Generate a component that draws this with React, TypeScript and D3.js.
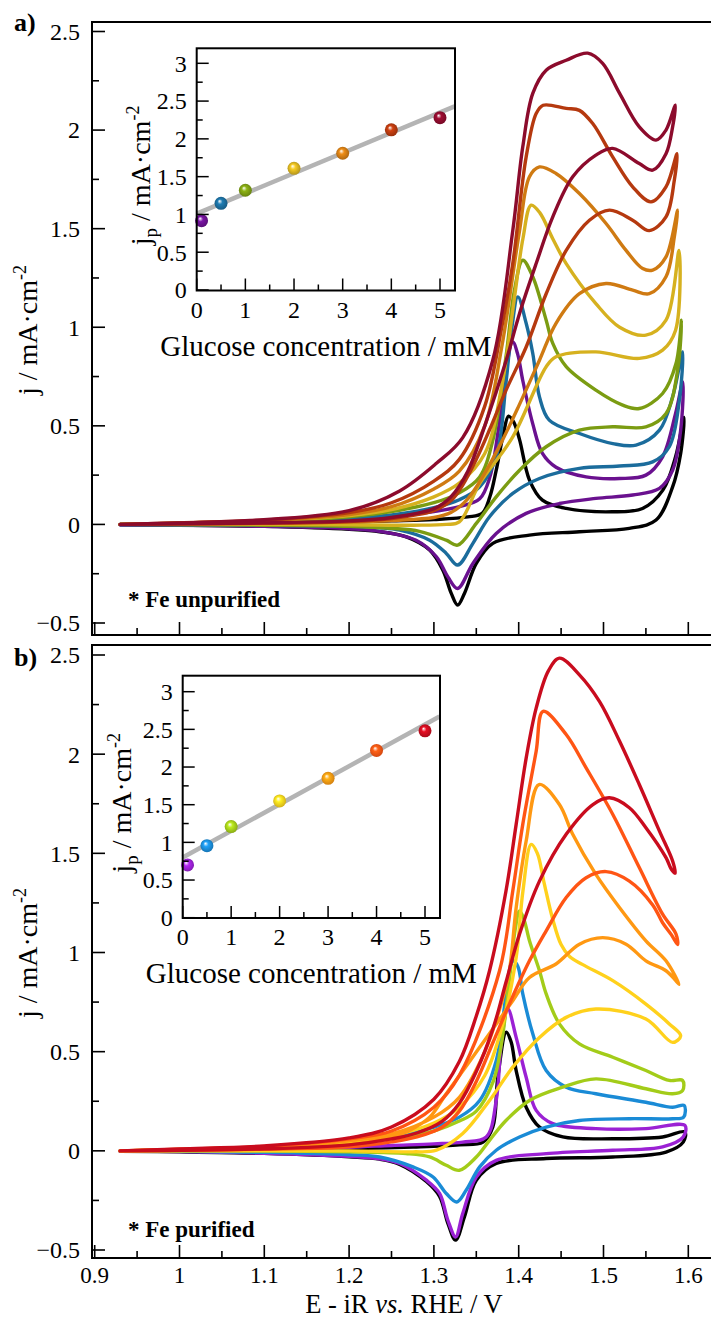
import React from 'react';
import * as d3 from 'd3';

// ---------- axis ticks ----------
const potentialTicks = [0.9, 1.0, 1.1, 1.2, 1.3, 1.4, 1.5, 1.6];
const potentialLabels = ['0.9', '1', '1.1', '1.2', '1.3', '1.4', '1.5', '1.6'];
const currentTicks = [-0.5, 0, 0.5, 1, 1.5, 2, 2.5];
const currentLabels = ['\u22120.5', '0', '0.5', '1', '1.5', '2', '2.5'];
const insetXTicks = [0, 1, 2, 3, 4, 5];
const insetYTicks = [0, 0.5, 1, 1.5, 2, 2.5, 3];
const insetYLabels = ['0', '0.5', '1', '1.5', '2', '2.5', '3'];

// ---------- inset data ----------
const concentrations = [0.1, 0.5, 1, 2, 3, 4, 5];
const peakA = [0.917, 1.147, 1.32, 1.61, 1.81, 2.12, 2.28];
const peakB = [0.70, 0.956, 1.21, 1.55, 1.85, 2.22, 2.48];
const fitA = [[0, 1.01], [5.3, 2.43]];
const fitB = [[0, 0.80], [5.3, 2.67]];

// ---------- colours ----------
const colorsA = ['#000000', '#6a118f', '#1b6c9c', '#7b9c12', '#d6b11f', '#cf7a12', '#b5390f', '#8c0b2c'];
const colorsB = ['#000000', '#9b21d4', '#1a8bd6', '#a3cc19', '#ffd11c', '#ff9812', '#ff5514', '#c90c1e'];

// ---------- CV loops, panel a (E / V, j / mA cm-2) ----------
const cvA0 = [[0.93,0],[1.0,0.002],[1.1,0.006],[1.2,0.012],[1.25,0.018],[1.3,0.025],[1.34,0.038],[1.357,0.056],[1.366,0.14],[1.3735,0.275],[1.382,0.46],[1.388,0.549],[1.394,0.52],[1.401,0.43],[1.4127,0.225],[1.428,0.123],[1.456,0.081],[1.51,0.064],[1.546,0.081],[1.57,0.174],[1.585,0.343],[1.595,0.543],
  [1.591,0.36],[1.5815,0.19],[1.562,0.022],[1.5305,-0.02],[1.4716,-0.037],[1.4127,-0.054],[1.3695,-0.096],[1.35,-0.198],[1.336,-0.35],[1.328,-0.409],[1.3205,-0.35],[1.3106,-0.232],[1.295,-0.13],[1.2675,-0.063],[1.236,-0.037],[1.2,-0.025],[1.1,-0.01],[1.0,-0.004],[0.93,-0.002]];
const cvA01 = [[0.93,0],[1.0,0.003],[1.1,0.01],[1.2,0.024],[1.25,0.038],[1.3,0.065],[1.33,0.09],[1.354,0.13],[1.366,0.24],[1.376,0.48],[1.385,0.78],[1.393,0.926],[1.399,0.86],[1.4048,0.73],[1.4166,0.51],[1.428,0.36],[1.444,0.29],[1.4795,0.241],[1.519,0.233],[1.55,0.25],[1.5697,0.343],[1.585,0.563],[1.5935,0.723],
  [1.591,0.478],[1.5815,0.275],[1.566,0.183],[1.5344,0.149],[1.491,0.132],[1.448,0.106],[1.4088,0.056],[1.3735,-0.046],[1.346,-0.198],[1.328,-0.325],[1.3165,-0.266],[1.303,-0.164],[1.279,-0.08],[1.236,-0.035],[1.2,-0.022],[1.1,-0.01],[1.0,-0.004],[0.93,-0.002]];
const cvA05 = [[0.93,0],[1.0,0.004],[1.1,0.012],[1.2,0.03],[1.25,0.048],[1.3,0.085],[1.33,0.125],[1.354,0.19],[1.3735,0.343],[1.3853,0.73],[1.392,1.0],[1.399,1.154],[1.4088,1.02],[1.4166,0.867],[1.4245,0.647],[1.436,0.529],[1.4716,0.461],[1.511,0.41],[1.5384,0.402],[1.566,0.478],[1.5815,0.647],[1.5933,0.875],
  [1.589,0.614],[1.5776,0.394],[1.558,0.317],[1.519,0.296],[1.4716,0.284],[1.4245,0.233],[1.393,0.157],[1.3656,0.039],[1.346,-0.096],[1.328,-0.206],[1.3146,-0.147],[1.295,-0.08],[1.2596,-0.029],[1.236,-0.017],[1.2,-0.01],[1.1,-0.005],[0.93,-0.001]];
const cvA1 = [[0.93,0],[1.0,0.005],[1.1,0.015],[1.2,0.038],[1.25,0.065],[1.3,0.11],[1.33,0.16],[1.354,0.241],[1.3695,0.427],[1.385,0.85],[1.395,1.188],[1.4048,1.34],[1.4166,1.256],[1.4324,1.036],[1.4402,0.918],[1.456,0.80],[1.491,0.681],[1.5226,0.605],[1.5422,0.588],[1.5697,0.664],[1.5855,0.816],[1.592,1.036],
  [1.5874,0.782],[1.5738,0.563],[1.55,0.495],[1.5108,0.495],[1.4716,0.478],[1.4324,0.394],[1.401,0.275],[1.3735,0.14],[1.35,0.005],[1.328,-0.105],[1.3146,-0.08],[1.283,-0.035],[1.25,-0.02],[1.2,-0.01],[1.1,-0.004],[0.93,0]];
const cvA2 = [[0.93,0],[1.0,0.006],[1.1,0.018],[1.2,0.045],[1.25,0.075],[1.3,0.14],[1.33,0.21],[1.36,0.36],[1.38,0.7],[1.395,1.15],[1.405,1.45],[1.4147,1.619],[1.425,1.58],[1.44,1.45],[1.456,1.323],[1.491,1.12],[1.519,1.0],[1.55,0.96],[1.5737,1.036],[1.589,1.39],
  [1.585,0.985],[1.5697,0.884],[1.5422,0.842],[1.491,0.875],[1.444,0.85],[1.4324,0.80],[1.393,0.444],[1.354,0.208],[1.33,0.013],[1.3146,0.0],[1.275,-0.004],[1.2,-0.002],[1.1,0],[0.93,0]];
const cvA3 = [[0.93,0],[1.0,0.007],[1.1,0.02],[1.2,0.05],[1.25,0.09],[1.3,0.18],[1.33,0.27],[1.36,0.5],[1.38,0.9],[1.401,1.49],[1.4127,1.763],[1.4245,1.813],[1.444,1.78],[1.4716,1.678],[1.503,1.526],[1.5266,1.39],[1.5462,1.298],[1.558,1.29],[1.5737,1.357],[1.5874,1.594],
  [1.5835,1.458],[1.5737,1.256],[1.554,1.17],[1.5344,1.188],[1.503,1.222],[1.4716,1.17],[1.444,1.02],[1.4245,0.833],[1.40,0.6],[1.38,0.42],[1.36,0.26],[1.34,0.13],[1.32,0.06],[1.30,0.035],[1.25,0.02],[1.2,0.012],[1.1,0.005],[0.93,0]];
const cvA4 = [[0.93,0],[1.0,0.008],[1.1,0.022],[1.2,0.06],[1.25,0.11],[1.3,0.22],[1.33,0.33],[1.36,0.6],[1.38,1.0],[1.393,1.323],[1.4088,1.864],[1.4206,2.084],[1.4288,2.126],[1.456,2.11],[1.4716,2.10],[1.4873,2.033],[1.5108,1.864],[1.5344,1.712],[1.556,1.636],[1.5737,1.712],[1.5867,1.88],
  [1.5835,1.746],[1.5737,1.56],[1.554,1.49],[1.5344,1.543],[1.507,1.594],[1.4834,1.543],[1.456,1.39],[1.4324,1.17],[1.4088,0.90],[1.385,0.68],[1.3656,0.48],[1.35,0.33],[1.334,0.2],[1.32,0.12],[1.30,0.07],[1.25,0.03],[1.2,0.015],[1.1,0.006],[0.93,0]];
const cvA5 = [[0.93,0],[1.0,0.008],[1.083,0.02],[1.2,0.07],[1.2596,0.17],[1.303,0.31],[1.334,0.44],[1.3695,0.834],[1.393,1.49],[1.4048,1.915],[1.4166,2.186],[1.4324,2.304],[1.456,2.354],[1.4814,2.39],[1.499,2.338],[1.519,2.186],[1.5422,2.016],[1.5619,1.949],[1.5737,2.0],[1.5847,2.126],
  [1.5815,2.016],[1.5737,1.88],[1.558,1.797],[1.5422,1.83],[1.5108,1.907],[1.491,1.873],[1.4637,1.763],[1.4402,1.56],[1.4206,1.323],[1.401,1.07],[1.3853,0.833],[1.36,0.5],[1.34,0.27],[1.32,0.14],[1.30,0.08],[1.25,0.035],[1.2,0.018],[1.1,0.008],[0.93,0]];

// ---------- CV loops, panel b ----------
const cvB0 = [[0.93,0],[1.0,0.002],[1.1,0.005],[1.2,0.01],[1.2755,0.019],[1.33,0.03],[1.358,0.044],[1.3695,0.12],[1.3754,0.371],[1.3853,0.598],[1.391,0.55],[1.397,0.405],[1.4088,0.22],[1.4245,0.12],[1.452,0.07],[1.511,0.061],[1.5697,0.07],[1.596,0.095],
  [1.594,0.044],[1.5737,-0.006],[1.511,-0.031],[1.4324,-0.039],[1.3735,-0.064],[1.35,-0.148],[1.336,-0.333],[1.3256,-0.45],[1.3165,-0.366],[1.3067,-0.23],[1.2911,-0.155],[1.2596,-0.068],[1.236,-0.042],[1.2,-0.03],[1.1,-0.013],[1.0,-0.005],[0.93,-0.002]];
const cvB01 = [[0.93,0],[1.0,0.003],[1.1,0.008],[1.2,0.018],[1.25,0.027],[1.3,0.035],[1.334,0.044],[1.3617,0.07],[1.3735,0.254],[1.3794,0.539],[1.3872,0.715],[1.397,0.572],[1.4088,0.371],[1.4206,0.204],[1.4402,0.137],[1.491,0.112],[1.55,0.112],[1.596,0.128],
  [1.594,0.07],[1.5697,0.02],[1.511,0.003],[1.4324,-0.014],[1.3735,-0.048],[1.35,-0.132],[1.334,-0.316],[1.3256,-0.434],[1.3165,-0.35],[1.3067,-0.215],[1.2911,-0.148],[1.2596,-0.064],[1.236,-0.04],[1.2,-0.028],[1.1,-0.012],[1.0,-0.004],[0.93,-0.002]];
const cvB05 = [[0.93,0],[1.0,0.004],[1.1,0.012],[1.2,0.03],[1.236,0.053],[1.3,0.12],[1.33,0.17],[1.354,0.254],[1.3735,0.455],[1.3853,0.791],[1.393,0.958],[1.399,0.93],[1.4048,0.791],[1.4166,0.59],[1.4324,0.405],[1.456,0.321],[1.491,0.288],[1.55,0.245],[1.5815,0.22],[1.5952,0.229],
  [1.5945,0.17],[1.5815,0.162],[1.5305,0.162],[1.4716,0.153],[1.4324,0.12],[1.401,0.07],[1.3735,0.003],[1.354,-0.081],[1.338,-0.199],[1.327,-0.258],[1.3146,-0.215],[1.299,-0.132],[1.2753,-0.081],[1.236,-0.031],[1.2,-0.02],[1.1,-0.008],[0.93,0]];
const cvB1 = [[0.93,0],[1.0,0.005],[1.1,0.015],[1.2,0.04],[1.25,0.06],[1.3,0.1],[1.33,0.15],[1.35,0.2],[1.37,0.35],[1.38,0.55],[1.39,0.9],[1.396,1.12],[1.401,1.21],[1.406,1.17],[1.4127,1.059],[1.4245,0.908],[1.4324,0.791],[1.448,0.64],[1.4716,0.539],[1.511,0.472],[1.55,0.405],[1.5776,0.355],[1.5933,0.355],
  [1.5933,0.304],[1.5815,0.288],[1.55,0.313],[1.491,0.363],[1.452,0.321],[1.4127,0.254],[1.385,0.153],[1.3656,0.053],[1.35,-0.031],[1.33,-0.098],[1.3146,-0.073],[1.295,-0.031],[1.267,-0.014],[1.2,-0.005],[1.1,0],[0.93,0]];
const cvB2 = [[0.93,0],[1.0,0.006],[1.1,0.018],[1.2,0.045],[1.25,0.075],[1.3,0.14],[1.33,0.22],[1.36,0.38],[1.38,0.62],[1.397,0.975],[1.405,1.31],[1.4147,1.545],[1.422,1.5],[1.43,1.35],[1.44,1.17],[1.45,1.04],[1.46,0.98],[1.475,0.94],[1.511,0.858],[1.55,0.74],[1.5776,0.64],[1.591,0.58],
  [1.5815,0.547],[1.55,0.665],[1.491,0.715],[1.456,0.673],[1.4245,0.572],[1.393,0.422],[1.3656,0.254],[1.334,0.087],[1.303,0.003],[1.2753,-0.005],[1.2,0],[1.1,0],[0.93,0]];
const cvB3 = [[0.93,0],[1.0,0.007],[1.1,0.02],[1.2,0.05],[1.25,0.085],[1.3,0.17],[1.33,0.27],[1.36,0.5],[1.38,0.75],[1.389,0.908],[1.397,1.226],[1.4088,1.562],[1.424,1.847],[1.448,1.746],[1.4637,1.596],[1.491,1.394],[1.519,1.226],[1.55,1.059],[1.5737,0.958],[1.589,0.84],
  [1.585,0.86],[1.5737,0.908],[1.55,0.958],[1.5266,1.042],[1.499,1.075],[1.4716,1.042],[1.444,0.942],[1.4127,0.874],[1.393,0.757],[1.354,0.522],[1.3146,0.288],[1.295,0.17],[1.27,0.1],[1.25,0.07],[1.2,0.03],[1.1,0.01],[0.93,0]];
const cvB4 = [[0.93,0],[1.0,0.008],[1.1,0.022],[1.2,0.06],[1.25,0.1],[1.3,0.22],[1.33,0.38],[1.3774,0.908],[1.393,1.31],[1.4048,1.646],[1.4206,2.015],[1.4288,2.216],[1.456,2.099],[1.4795,1.931],[1.511,1.696],[1.5422,1.428],[1.5697,1.193],[1.5855,1.093],[1.5874,1.04],
  [1.58,1.09],[1.5697,1.15],[1.558,1.24],[1.5305,1.36],[1.503,1.408],[1.4795,1.377],[1.456,1.277],[1.4324,1.109],[1.4127,0.958],[1.39,0.75],[1.37,0.55],[1.35,0.35],[1.33,0.2],[1.31,0.12],[1.28,0.07],[1.25,0.045],[1.2,0.02],[1.1,0.008],[0.93,0]];
const cvB5 = [[0.93,0],[1.0,0.01],[1.1,0.025],[1.2,0.065],[1.25,0.12],[1.3,0.26],[1.33,0.45],[1.35,0.68],[1.3656,0.908],[1.385,1.31],[1.397,1.646],[1.4088,1.98],[1.4206,2.232],[1.435,2.42],[1.448,2.484],[1.4716,2.40],[1.4952,2.266],[1.519,2.065],[1.5422,1.847],[1.566,1.612],[1.5815,1.461],[1.5845,1.40],
  [1.58,1.42],[1.5737,1.478],[1.55,1.629],[1.5305,1.73],[1.507,1.78],[1.4875,1.746],[1.456,1.596],[1.4245,1.36],[1.401,1.093],[1.385,0.85],[1.37,0.62],[1.35,0.4],[1.33,0.24],[1.31,0.15],[1.28,0.09],[1.25,0.06],[1.2,0.03],[1.1,0.01],[0.93,0]];

const curvesA = [cvA0, cvA01, cvA05, cvA1, cvA2, cvA3, cvA4, cvA5];
const curvesB = [cvB0, cvB01, cvB05, cvB1, cvB2, cvB3, cvB4, cvB5];

const FONT = '"Liberation Serif", "Times New Roman", serif';

type Inset = { left: number; right: number; top: number; bottom: number; x0: number; x5: number; y0: number; y3: number; peaks: number[]; fit: number[][] };
type Panel = {
  key: string; top: number; bottom: number; yr: [number, number]; curves: number[][][]; colors: string[];
  label: string; labelY: number; note: string; noteY: number; titleY: number; showX: boolean; inset: Inset; insetTitleX: number;
};

const panels: Panel[] = [
  { key: 'a', top: 22, bottom: 635, yr: [623, 31.5], curves: curvesA, colors: colorsA, label: 'a)', labelY: 31,
    note: '* Fe unpurified', noteY: 607, titleY: 330, showX: false, insetTitleX: 150,
    inset: { left: 196.7, right: 455, top: 48.3, bottom: 290.5, x0: 196.7, x5: 440, y0: 290, y3: 63.3, peaks: peakA, fit: fitA } },
  { key: 'b', top: 645, bottom: 1258, yr: [1250, 655], curves: curvesB, colors: colorsB, label: 'b)', labelY: 666,
    note: '* Fe purified', noteY: 1237, titleY: 953, showX: true, insetTitleX: 131,
    inset: { left: 182.7, right: 440, top: 675.7, bottom: 918, x0: 182.7, x5: 425, y0: 917.7, y3: 691.7, peaks: peakB, fit: fitB } },
];

const FRAME_L = 92;
const FRAME_R = 714;

function PanelView({ p }: { p: Panel }) {
  const x = d3.scaleLinear().domain([0.9, 1.6]).range([94.7, 688.3]);
  const y = d3.scaleLinear().domain([-0.5, 2.5]).range(p.yr);
  const line = d3.line<number[]>().x(d => x(d[0])).y(d => y(d[1])).curve(d3.curveCatmullRom.alpha(0.5));
  const minorY = d3.range(-0.5, 2.51, 0.25);
  const minorX = d3.range(0.9, 1.651, 0.05).filter(v => x(v) < FRAME_R);
  const ins = p.inset;
  const ix = d3.scaleLinear().domain([0, 5]).range([ins.x0, ins.x5]);
  const iy = d3.scaleLinear().domain([0, 3]).range([ins.y0, ins.y3]);
  const fitLine = d3.line<number[]>().x(d => ix(d[0])).y(d => iy(d[1]));
  const insMinorX = d3.range(0, 5.01, 0.5);
  const insMinorY = d3.range(0, 3.01, 0.25);
  const ballColors = p.colors.slice(1);
  const isMajor = (v: number, step: number) => Math.abs(v / step - Math.round(v / step)) < 1e-6;

  return (
    <g>
      <defs>
        {ballColors.map((c, i) => {
          const cc = d3.color(c)!;
          return (
            <radialGradient key={i} id={`ball-${p.key}-${i}`} cx="50%" cy="50%" r="55%" fx="38%" fy="32%">
              <stop offset="0%" stopColor="#ffffff" />
              <stop offset="35%" stopColor={cc.brighter(0.4).formatHex()} />
              <stop offset="100%" stopColor={cc.darker(0.6).formatHex()} />
            </radialGradient>
          );
        })}
      </defs>
      {/* curves */}
      <g fill="none" strokeWidth={3.4} strokeLinejoin="round" strokeLinecap="round">
        {p.curves.map((c, i) => (
          <path key={i} d={line(c) || ''} stroke={p.colors[i]} />
        ))}
      </g>
      {/* frame */}
      <rect x={FRAME_L} y={p.top} width={FRAME_R - FRAME_L} height={p.bottom - p.top} fill="none" stroke="#000" strokeWidth={2} />
      {/* y ticks */}
      {minorY.map((v, i) => (
        <line key={i} x1={FRAME_L} x2={FRAME_L + (isMajor(v, 0.5) ? 13 : 7)} y1={y(v)} y2={y(v)} stroke="#000" strokeWidth={1.6} />
      ))}
      {currentTicks.map((v, i) => (
        <text key={i} x={80} y={y(v)} dy="0.35em" textAnchor="end" fontFamily={FONT} fontSize={24}>{currentLabels[i]}</text>
      ))}
      {/* x ticks */}
      {minorX.map((v, i) => (
        <line key={i} x1={x(v)} x2={x(v)} y1={p.bottom} y2={p.bottom - (isMajor(v - 0.9, 0.1) ? 13 : 7)} stroke="#000" strokeWidth={1.6} />
      ))}
      {p.showX && potentialTicks.map((v, i) => (
        <text key={i} x={x(v)} y={p.bottom + 25} textAnchor="middle" fontFamily={FONT} fontSize={23}>{potentialLabels[i]}</text>
      ))}
      {/* y title */}
      <text transform={`translate(37,${p.titleY}) rotate(-90)`} textAnchor="middle" fontFamily={FONT} fontSize={28}>
        j / mA·cm<tspan dy={-11} fontSize={18}>-2</tspan>
      </text>
      {/* panel label */}
      <text x={14} y={p.labelY} fontFamily={FONT} fontSize={26} fontWeight="bold">{p.label}</text>
      <text x={128} y={p.noteY} fontFamily={FONT} fontSize={23} fontWeight="bold">{p.note}</text>

      {/* inset */}
      <rect x={ins.left} y={ins.top} width={ins.right - ins.left} height={ins.bottom - ins.top} fill="#fff" stroke="none" />
      <path d={fitLine(ins.fit) || ''} stroke="#b4b4b4" strokeWidth={4.5} fill="none" />
      {concentrations.map((c, i) => (
        <circle key={i} cx={ix(c)} cy={iy(ins.peaks[i])} r={6.5} fill={`url(#ball-${p.key}-${i})`} />
      ))}
      <rect x={ins.left} y={ins.top} width={ins.right - ins.left} height={ins.bottom - ins.top} fill="none" stroke="#000" strokeWidth={2} />
      {insMinorY.map((v, i) => (
        <line key={i} x1={ins.left} x2={ins.left + (isMajor(v, 0.5) ? 12 : 6)} y1={iy(v)} y2={iy(v)} stroke="#000" strokeWidth={1.5} />
      ))}
      {insMinorX.map((v, i) => (
        <line key={i} x1={ix(v)} x2={ix(v)} y1={ins.bottom} y2={ins.bottom - (isMajor(v, 1) ? 12 : 6)} stroke="#000" strokeWidth={1.5} />
      ))}
      {insetYTicks.map((v, i) => (
        <text key={i} x={ins.left - 10} y={iy(v)} dy="0.35em" textAnchor="end" fontFamily={FONT} fontSize={24}>{insetYLabels[i]}</text>
      ))}
      {insetXTicks.map((v, i) => (
        <text key={i} x={ix(v)} y={ins.bottom + 27} textAnchor="middle" fontFamily={FONT} fontSize={24}>{String(v)}</text>
      ))}
      <text x={(ins.left + ins.right) / 2} y={ins.bottom + 65} textAnchor="middle" fontFamily={FONT} fontSize={29}>Glucose concentration / mM</text>
      <text transform={`translate(${p.insetTitleX},${(ins.top + ins.bottom) / 2 + 6}) rotate(-90)`} textAnchor="middle" fontFamily={FONT} fontSize={28}>
        j<tspan dy={7} fontSize={19}>p</tspan><tspan dy={-7}> / mA·cm</tspan><tspan dy={-11} fontSize={18}>-2</tspan>
      </text>
    </g>
  );
}

export default function App() {
  return (
    <svg width={711} height={1318} style={{ position: 'absolute', left: 0, top: 0, background: '#fff' }}>
      <rect x={0} y={0} width={711} height={1318} fill="#fff" />
      {panels.map(p => <PanelView key={p.key} p={p} />)}
      <text x={404} y={1312.5} textAnchor="middle" fontFamily={FONT} fontSize={26.5}>
        E - iR <tspan fontStyle="italic">vs.</tspan> RHE / V
      </text>
    </svg>
  );
}
